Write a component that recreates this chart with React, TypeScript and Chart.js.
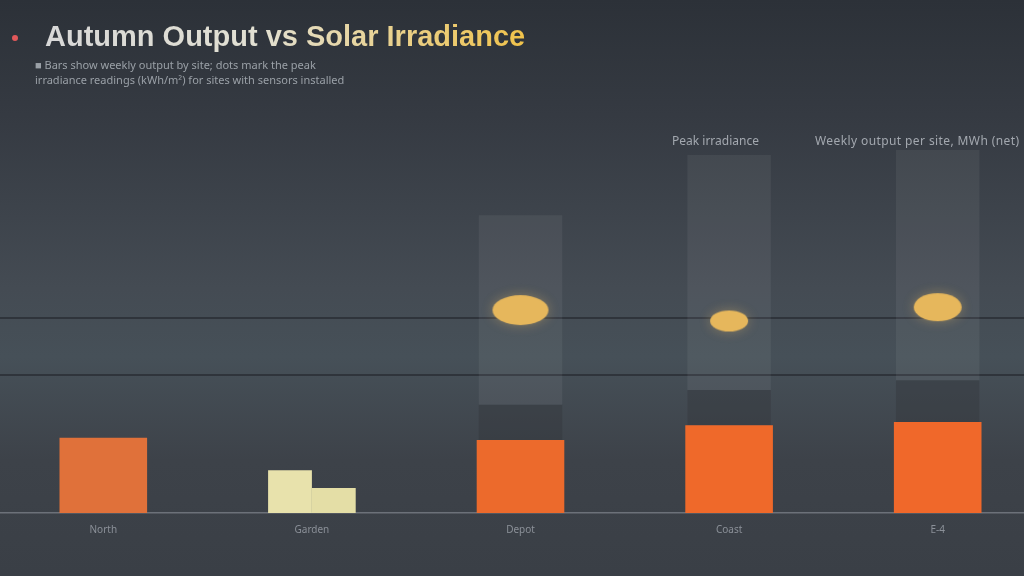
import React, { useEffect, useRef } from "react";
import { Chart, registerables } from "chart.js";

Chart.register(...registerables);

// ---- data ----
const categories = ["North", "Garden", "Depot", "Coast", "E-4"];
const outputValues = [20.7, null, 20.1, 24.2, 25.1];
const pilotAValues = [null, 11.8, null, null, null];
const pilotBValues = [null, 6.9, null, null, null];
const peakValues = [null, null, 55.9, 52.9, 56.7];
const bandTops = [null, null, 82, 98.6, 100];
const shadowTops = [null, null, 29.8, 33.9, 36.6];
const gridValues = [38, 53.7];

const titleText = "Autumn Output vs Solar Irradiance";
const subtitleLines = [
  "■ Bars show weekly output by site; dots mark the peak",
  "irradiance readings (kWh/m²) for sites with sensors installed",
];
const legendLabels = ["Peak irradiance", "Weekly output per site, MWh (net)"];

// style-only sizes for the ellipse markers (w, h)
const markerSizes = [
  [0, 0],
  [0, 0],
  [56, 30],
  [38, 21],
  [48, 28],
];

function makeEllipse(w: number, h: number): HTMLCanvasElement {
  const pad = 14;
  const c = document.createElement("canvas");
  c.width = Math.max(1, w + pad * 2);
  c.height = Math.max(1, h + pad * 2);
  const ctx = c.getContext("2d")!;
  if (w > 0) {
    ctx.shadowColor = "rgba(235,190,100,0.35)";
    ctx.shadowBlur = 12;
    ctx.fillStyle = "#e6b75c";
    ctx.beginPath();
    ctx.ellipse(c.width / 2, c.height / 2, w / 2, h / 2, 0, 0, Math.PI * 2);
    ctx.fill();
  }
  return c;
}

export default function App() {
  const ref = useRef<HTMLCanvasElement | null>(null);

  useEffect(() => {
    if (!ref.current) return;
    const markers = markerSizes.map(([w, h]) => makeEllipse(w, h));
    const chart = new Chart(ref.current, {
      type: "bar",
      data: {
        labels: categories,
        datasets: [
          {
            type: "line",
            label: "Peak",
            data: peakValues as any,
            showLine: false,
            pointStyle: markers as any,
            pointRadius: 1,
            pointHoverRadius: 1,
            pointBorderWidth: 0,
            borderWidth: 0,
            clip: false,
            order: 0,
          } as any,
          {
            label: "Output",
            data: outputValues as any,
            backgroundColor: ["#e0713a", "#e0713a", "#ec6a2c", "#ef692a", "#f0682a"],
            categoryPercentage: 0.42,
            barPercentage: 1,
            order: 2,
          },
          {
            label: "Pilot A",
            data: pilotAValues as any,
            backgroundColor: "#e8e2ac",
            categoryPercentage: 0.42,
            barPercentage: 1,
            order: 2,
          },
          {
            label: "Pilot B",
            data: pilotBValues as any,
            backgroundColor: "#e4dea6",
            categoryPercentage: 0.42,
            barPercentage: 1,
            order: 2,
          },
          {
            label: "Shadow",
            data: outputValues.map((v, i) =>
              v == null || shadowTops[i] == null ? null : [v, shadowTops[i]]
            ) as any,
            backgroundColor: "rgba(28,31,36,0.35)",
            grouped: false,
            categoryPercentage: 0.4,
            barPercentage: 1,
            order: 5,
          } as any,
          {
            label: "Band",
            data: bandTops.map((v) => (v == null ? null : [0, v])) as any,
            backgroundColor: "rgba(255,255,255,0.06)",
            grouped: false,
            categoryPercentage: 0.4,
            barPercentage: 1,
            order: 10,
          } as any,
        ],
      },
      options: {
        responsive: false,
        animation: false,
        skipNull: true,
        layout: { padding: { top: 150, bottom: 37, left: 0, right: 0 } },
        plugins: {
          legend: { display: false },
          tooltip: { enabled: false },
        },
        scales: {
          x: {
            grid: { display: false },
            border: { display: true, color: "#6c7179", width: 1.5 },
            ticks: {
              color: "#8b9098",
              padding: 3,
              font: { family: "Noto Sans", size: 10 },
            },
          },
          y: {
            min: 0,
            max: 100,
            afterBuildTicks: (scale: any) => {
              scale.ticks = gridValues.map((v) => ({ value: v }));
            },
            ticks: { display: false },
            border: { display: false },
            grid: {
              drawTicks: false,
              color: "rgba(38,42,48,0.7)",
              lineWidth: 2,
            },
          },
        },
      } as any,
    });
    return () => chart.destroy();
  }, []);

  return (
    <div
      style={{
        position: "fixed",
        left: 0,
        top: 0,
        width: 1024,
        height: 576,
        overflow: "hidden",
        background:
          "linear-gradient(180deg, #2c3138 0%, #353a42 20%, #444b53 50%, #465058 62%, #3d4249 80%, #3a3f46 100%)",
        fontFamily: "'Noto Sans', sans-serif",
      }}
    >
      <div style={{ position: "absolute", left: -2, top: 0 }}>
        <canvas ref={ref} width={1045} height={576} />
      </div>
      <div
        style={{
          position: "absolute",
          left: 12,
          top: 35,
          width: 6,
          height: 6,
          borderRadius: 3,
          background: "#e2585a",
        }}
      />
      <div
        style={{
          position: "absolute",
          left: 45,
          top: 19,
          fontFamily: "'Liberation Sans', sans-serif",
          fontWeight: 700,
          fontSize: 29,
          lineHeight: "34px",
          whiteSpace: "nowrap",
          background: "linear-gradient(90deg, #d8d8d8 0%, #e2e0d2 45%, #f0c24a 100%)",
          WebkitBackgroundClip: "text",
          backgroundClip: "text",
          color: "transparent",
        }}
      >
        {titleText}
      </div>
      <div
        style={{
          position: "absolute",
          left: 35,
          top: 57,
          fontSize: 11,
          lineHeight: "15px",
          color: "#9aa0a7",
          whiteSpace: "nowrap",
        }}
      >
        {subtitleLines.map((l, i) => (
          <div key={i}>{l}</div>
        ))}
      </div>
      <div
        style={{
          position: "absolute",
          top: 132,
          left: 672,
          fontSize: 12,
          color: "#a3a8af",
          whiteSpace: "nowrap",
        }}
      >
        {legendLabels[0]}
      </div>
      <div
        style={{
          position: "absolute",
          top: 132,
          left: 815,
          fontSize: 12,
          letterSpacing: "0.4px",
          color: "#a3a8af",
          whiteSpace: "nowrap",
        }}
      >
        {legendLabels[1]}
      </div>
    </div>
  );
}
